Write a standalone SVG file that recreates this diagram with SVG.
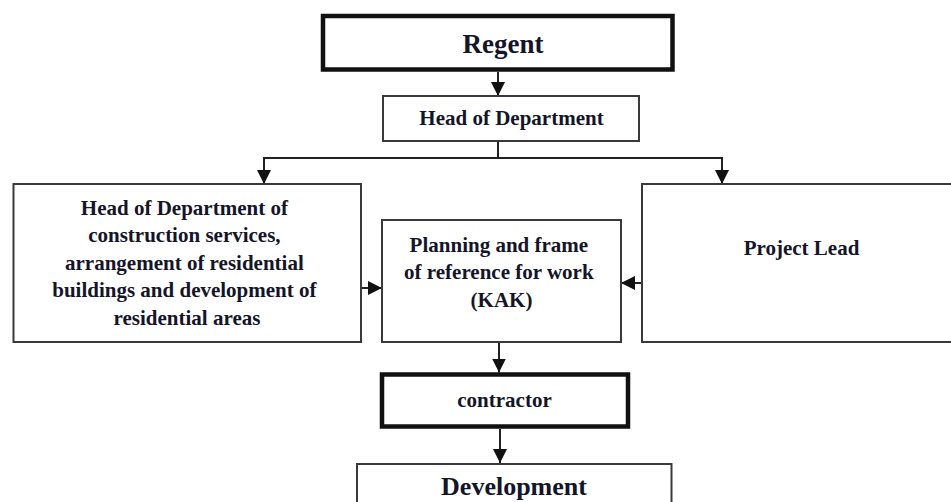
<svg xmlns="http://www.w3.org/2000/svg" width="951" height="502" viewBox="0 0 951 502">
  <style>
    .box { fill: #ffffff; stroke: #3a3a3a; stroke-width: 2; }
    .thick { fill: #ffffff; stroke: #111111; stroke-width: 4.5; }
    .t { font-family: "Liberation Serif", "Times New Roman", serif; font-weight: bold; font-size: 21px; fill: #15152a; text-anchor: middle; }
    .big { font-size: 27px; }
    .dev { font-size: 26px; }
    .conn { fill: none; stroke: #222222; stroke-width: 2; }
  </style>
  <defs>
    <marker id="arrow" viewBox="0 0 14 14" markerUnits="userSpaceOnUse" markerWidth="14" markerHeight="14" refX="14" refY="7" orient="auto">
      <path d="M0,0 L14,7 L0,14 z" fill="#111111"/>
    </marker>
  </defs>
  <rect width="951" height="502" fill="#ffffff"/>

  <g id="connectors">
    <line class="conn" x1="498" y1="72" x2="498" y2="96" marker-end="url(#arrow)"/>
    <polyline class="conn" points="498,141 498,158"/>
    <polyline class="conn" points="498,158 264,158 264,184" marker-end="url(#arrow)"/>
    <polyline class="conn" points="498,158 722,158 722,184" marker-end="url(#arrow)"/>
    <line class="conn" x1="361" y1="288" x2="382" y2="288" marker-end="url(#arrow)"/>
    <line class="conn" x1="642" y1="283" x2="621" y2="283" marker-end="url(#arrow)"/>
    <line class="conn" x1="499" y1="342" x2="499" y2="372.5" marker-end="url(#arrow)"/>
    <line class="conn" x1="500" y1="429" x2="500" y2="463" marker-end="url(#arrow)"/>
  </g>

  <g id="regent">
    <rect class="thick" x="323" y="16" width="349.5" height="53.5"/>
    <text class="t big" x="503" y="53">Regent</text>
  </g>

  <g id="head-of-department">
    <rect class="box" x="383" y="96" width="256" height="45"/>
    <text class="t" x="511.5" y="125">Head of Department</text>
  </g>

  <g id="head-construction">
    <rect class="box" x="13.5" y="184" width="347.5" height="158"/>
    <text class="t" x="187">
      <tspan x="187" y="214.5">Head of Department of</tspan>
      <tspan x="187" y="242">construction services,</tspan>
      <tspan x="187" y="269.5">arrangement of residential</tspan>
      <tspan x="187" y="297">buildings and development of</tspan>
      <tspan x="187" y="324.5">residential areas</tspan>
    </text>
  </g>

  <g id="kak">
    <rect class="box" x="382" y="220" width="239" height="122"/>
    <text class="t" x="501.5">
      <tspan x="501.5" y="251.5">Planning and frame</tspan>
      <tspan x="501.5" y="279">of reference for work</tspan>
      <tspan x="501.5" y="307">(KAK)</tspan>
    </text>
  </g>

  <g id="project-lead">
    <rect class="box" x="642" y="184" width="330" height="158"/>
    <text class="t" x="801.5" y="255">Project Lead</text>
  </g>

  <g id="contractor">
    <rect class="thick" x="382" y="374.5" width="246" height="52"/>
    <text class="t" x="504.5" y="407">contractor</text>
  </g>

  <g id="development">
    <rect class="box" x="357" y="464" width="314.5" height="60"/>
    <text class="t dev" x="514" y="495">Development</text>
  </g>
</svg>
